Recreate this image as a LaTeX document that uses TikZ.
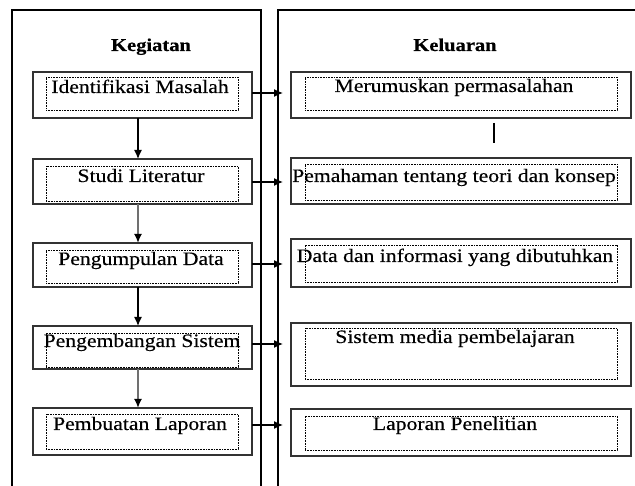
\documentclass[tikz,border=0pt]{standalone}
\usepackage{fontspec}
\setmainfont{Liberation Serif}[FakeStretch=1.14,FakeBold=0.4]
\usetikzlibrary{arrows.meta}
\definecolor{boxline}{HTML}{333333}
\definecolor{shaft}{HTML}{707070}

\begin{document}
\begin{tikzpicture}[x=1pt,y=-1pt,>={Latex[length=9pt,width=8pt]},font=\fontsize{19}{22}\selectfont,
  outbox/.style={draw=boxline,line width=1.3pt,outer sep=0pt,inner sep=0pt},
  inbox/.style={draw,dash pattern=on 0.8pt off 0.8pt,line width=0.8pt,outer sep=0pt,inner sep=0pt},
  lbl/.style={anchor=base,inner sep=0pt},
  title/.style={anchor=base,inner sep=0pt,font=\fontsize{18}{22}\selectfont\bfseries},
  arr/.style={->,line width=1.3pt},
  grayarr/.style={-{Latex[length=9pt,width=8pt,color=black]},draw=shaft,line width=2.2pt}]
\clip (0,0) rectangle (635,486);
\fill[white] (0,0) rectangle (635,486);
\draw[line width=1.2pt] (12,490) |- (261,10) -- (261,490);
\draw[line width=1.2pt] (278,490) |- (640,10);
\node[title] (kegiatan) at (151,51) {Kegiatan};
\node[title] (keluaran) at (455,51) {Keluaran};
\node[outbox,minimum width=219,minimum height=46] (k1) at (142.5,95) {};
\node[outbox,minimum width=219,minimum height=45] (k2) at (142.5,181.5) {};
\node[outbox,minimum width=219,minimum height=44] (k3) at (142.5,265) {};
\node[outbox,minimum width=219,minimum height=43] (k4) at (142.5,347.5) {};
\node[outbox,minimum width=219,minimum height=47] (k5) at (142.5,431.5) {};
\node[inbox,minimum width=192,minimum height=33] (k1in) at (142,93.5) {};
\node[inbox,minimum width=192,minimum height=35] (k2in) at (142,183.5) {};
\node[inbox,minimum width=192,minimum height=33] (k3in) at (142,266.5) {};
\node[inbox,minimum width=192,minimum height=34] (k4in) at (142,350) {};
\node[inbox,minimum width=192,minimum height=35] (k5in) at (142,431.5) {};
\node[lbl] (k1t) at (140,93) {Identifikasi Masalah};
\node[lbl] (k2t) at (141,182) {Studi Literatur};
\node[lbl] (k3t) at (141,265) {Pengumpulan Data};
\node[lbl] (k4t) at (142,347) {Pengembangan Sistem};
\node[lbl] (k5t) at (140,430) {Pembuatan Laporan};
\node[outbox,minimum width=340,minimum height=46] (o1) at (461,95) {};
\node[outbox,minimum width=340,minimum height=46] (o2) at (461,181) {};
\node[outbox,minimum width=340,minimum height=48] (o3) at (461,263) {};
\node[outbox,minimum width=340,minimum height=63] (o4) at (461,354.5) {};
\node[outbox,minimum width=340,minimum height=47] (o5) at (461,432.5) {};
\node[inbox,minimum width=312,minimum height=33] (o1in) at (461,93.5) {};
\node[inbox,minimum width=312,minimum height=36] (o2in) at (461,182) {};
\node[inbox,minimum width=312,minimum height=37] (o3in) at (461,263.5) {};
\node[inbox,minimum width=312,minimum height=51] (o4in) at (461,353.5) {};
\node[inbox,minimum width=312,minimum height=34] (o5in) at (461,433) {};
\node[lbl] (o1t) at (454,92) {Merumuskan permasalahan};
\node[lbl] (o2t) at (454,182) {Pemahaman tentang teori dan konsep};
\node[lbl] (o3t) at (455,262) {Data dan informasi yang dibutuhkan};
\node[lbl] (o4t) at (455,343) {Sistem media pembelajaran};
\node[lbl] (o5t) at (455,430) {Laporan Penelitian};
\draw[arr] ([xshift=-4.5pt]k1.south) -- ([xshift=-4.5pt]k2.north);
\draw[grayarr] ([xshift=-4.5pt]k2.south) -- ([xshift=-4.5pt]k3.north);
\draw[arr] ([xshift=-4.5pt]k3.south) -- ([xshift=-4.5pt]k4.north);
\draw[grayarr] ([xshift=-4.5pt]k4.south) -- ([xshift=-4.5pt]k5.north);
\coordinate (a1) at (283,93);
\coordinate (a2) at (283,182);
\coordinate (a3) at (283,264);
\coordinate (a4) at (283,344);
\coordinate (a5) at (283,425);
\draw[arr] (k1.east |- a1) -- (a1);
\draw[arr] (k2.east |- a2) -- (a2);
\draw[arr] (k3.east |- a3) -- (a3);
\draw[arr] (k4.east |- a4) -- (a4);
\draw[arr] (k5.east |- a5) -- (a5);
\draw[line width=2.5pt] (494,123) -- (494,143);
\end{tikzpicture}
\end{document}
